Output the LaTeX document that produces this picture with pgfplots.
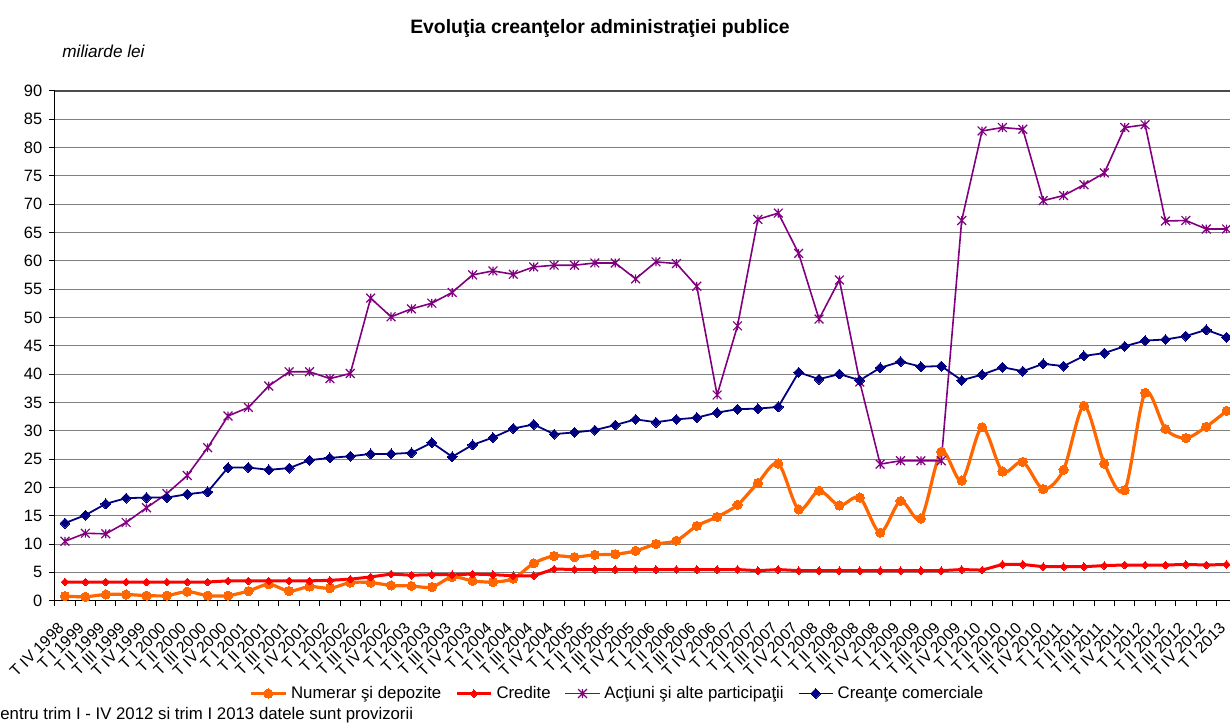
\documentclass[border=0pt]{standalone}
\usepackage{fontspec}
\setmainfont{Liberation Sans}
\usepackage{pgfplots}
\usepackage{pgfplotstable}
\pgfplotsset{compat=1.18}

\definecolor{cnum}{RGB}{255,102,0}
\definecolor{ccred}{RGB}{255,0,0}
\definecolor{cact}{RGB}{128,0,128}
\definecolor{ccrean}{RGB}{0,0,128}

\pgfdeclareplotmark{xstar}{%
  \pgfpathmoveto{\pgfqpoint{0pt}{\pgfplotmarksize}}%
  \pgfpathlineto{\pgfqpoint{0pt}{-\pgfplotmarksize}}%
  \pgfpathmoveto{\pgfqpoint{-\pgfplotmarksize}{-\pgfplotmarksize}}%
  \pgfpathlineto{\pgfqpoint{\pgfplotmarksize}{\pgfplotmarksize}}%
  \pgfpathmoveto{\pgfqpoint{-\pgfplotmarksize}{\pgfplotmarksize}}%
  \pgfpathlineto{\pgfqpoint{\pgfplotmarksize}{-\pgfplotmarksize}}%
  \pgfusepathqstroke
}

\pgfplotstableread{
k num cred act crean
0 0.8 3.3 10.5 13.7
1 0.7 3.3 11.9 15.1
2 1.1 3.3 11.8 17.1
3 1.1 3.3 13.8 18.1
4 0.9 3.3 16.4 18.2
5 0.9 3.3 18.9 18.2
6 1.6 3.3 22.1 18.8
7 0.9 3.3 27.0 19.2
8 0.9 3.5 32.6 23.5
9 1.7 3.5 34.1 23.5
10 2.9 3.5 37.9 23.1
11 1.7 3.5 40.4 23.4
12 2.5 3.5 40.4 24.8
13 2.2 3.6 39.2 25.2
14 3.2 3.8 40.1 25.5
15 3.2 4.2 53.4 25.9
16 2.7 4.7 50.1 25.9
17 2.6 4.5 51.5 26.1
18 2.4 4.6 52.5 27.9
19 4.2 4.6 54.4 25.4
20 3.5 4.7 57.5 27.5
21 3.3 4.6 58.2 28.8
22 3.9 4.4 57.6 30.4
23 6.6 4.4 58.9 31.1
24 7.9 5.6 59.2 29.4
25 7.7 5.5 59.2 29.7
26 8.1 5.5 59.6 30.1
27 8.2 5.5 59.6 31.0
28 8.8 5.5 56.8 32.0
29 10.0 5.5 59.8 31.5
30 10.6 5.5 59.5 32.0
31 13.2 5.5 55.5 32.3
32 14.8 5.5 36.3 33.2
33 16.9 5.5 48.5 33.8
34 20.8 5.3 67.3 33.9
35 24.2 5.5 68.4 34.2
36 16.1 5.3 61.3 40.3
37 19.4 5.3 49.7 39.1
38 16.8 5.3 56.6 40.0
39 18.2 5.3 38.6 38.9
40 12.0 5.3 24.1 41.1
41 17.6 5.3 24.7 42.2
42 14.5 5.3 24.7 41.3
43 26.3 5.3 24.7 41.4
44 21.2 5.5 67.1 38.9
45 30.6 5.4 82.9 39.9
46 22.8 6.4 83.5 41.2
47 24.5 6.4 83.2 40.5
48 19.7 6.0 70.6 41.8
49 23.1 6.0 71.5 41.4
50 34.4 6.0 73.4 43.2
51 24.2 6.2 75.5 43.7
52 19.5 6.3 83.5 44.9
53 36.7 6.3 84.0 45.9
54 30.3 6.3 67.0 46.1
55 28.7 6.4 67.1 46.7
56 30.7 6.3 65.6 47.8
57 33.5 6.4 65.6 46.5
}\data

\begin{document}
\begin{tikzpicture}
\begin{axis}[
  at={(0,0)}, anchor=south west,
  scale only axis, width=591pt, height=255pt,
  xmin=-0.5, xmax=57.5, ymin=0, ymax=90,
  axis x line*=bottom, axis y line*=left,
  axis line style={-, black, line width=0.6pt},
  ytick={0,5,...,90},
  xtick={0,...,57},
  xticklabels={T IV 1998,
    T I 1999,T II 1999,T III 1999,T IV 1999,
    T I 2000,T II 2000,T III 2000,T IV 2000,
    T I 2001,T II 2001,T III 2001,T IV 2001,
    T I 2002,T II 2002,T III 2002,T IV 2002,
    T I 2003,T II 2003,T III 2003,T IV 2003,
    T I 2004,T II 2004,T III 2004,T IV 2004,
    T I 2005,T II 2005,T III 2005,T IV 2005,
    T I 2006,T II 2006,T III 2006,T IV 2006,
    T I 2007,T II 2007,T III 2007,T IV 2007,
    T I 2008,T II 2008,T III 2008,T IV 2008,
    T I 2009,T II 2009,T III 2009,T IV 2009,
    T I 2010,T II 2010,T III 2010,T IV 2010,
    T I 2011,T II 2011,T III 2011,T IV 2011,
    T I 2012,T II 2012,T III 2012,T IV 2012,
    T I 2013},
  minor xtick={-0.5,0.5,...,57.5},
  major x tick style={draw=none},
  minor x tick style={black, line width=0.5pt},
  y tick style={black, line width=0.5pt},
  tick align=outside,
  major tick length=2.8pt, minor tick length=2.8pt,
  ymajorgrids, grid style={gray, line width=0.5pt},
  /pgf/number format/assume math mode=true,
  yticklabel style={font=\fontsize{8.2}{10}\selectfont},
  xticklabel style={font=\fontsize{7.9}{9.5}\selectfont, xshift=-4pt, yshift=-6pt, rotate=45, anchor=north east, inner sep=1pt},
  legend style={at={(0.4769,-0.182)}, anchor=center, draw=none, fill=none,
    legend columns=4, font=\fontsize{8.4}{10}\selectfont,
    /tikz/every even column/.append style={column sep=5pt}},
  legend cell align=left,
  clip=false,
]
\draw[gray!60!black, line width=0.9pt] (rel axis cs:0,1) -- (rel axis cs:1,1);
\addplot[cnum, line width=1.6pt, smooth, tension=0.5, mark=*, mark size=2.3pt,
  mark options={solid, fill=cnum, draw=cnum, line width=0pt}] table[x=k,y=num]{\data};
\addplot[ccred, line width=1.5pt, mark=square*, mark size=1.35pt,
  mark options={solid, rotate=45, fill=ccred, draw=ccred, line width=0pt}] table[x=k,y=cred]{\data};
\addplot[cact, line width=0.8pt, mark=xstar, mark size=2.2pt,
  mark options={solid, line width=0.6pt}] table[x=k,y=act]{\data};
\addplot[ccrean, line width=0.9pt, mark=square*, mark size=1.75pt,
  mark options={solid, rotate=45, fill=ccrean, draw=ccrean, line width=0pt}] table[x=k,y=crean]{\data};
\legend{Numerar şi depozite, Credite, Acţiuni şi alte participaţii, Creanţe comerciale}
\end{axis}
\node[anchor=base, font=\bfseries\fontsize{9.7}{12}\selectfont] at (272.6pt,283.7pt) {Evoluţia creanţelor administraţiei publice};
\node[anchor=base west, inner sep=0pt, font=\itshape\fontsize{8.6}{10}\selectfont] at (3.6pt,271.4pt) {miliarde lei};
\node[anchor=base west, inner sep=0pt, font=\fontsize{8.4}{10}\selectfont] at (-33pt,-59.6pt) {Pentru trim I - IV 2012 si trim I 2013 datele sunt provizorii};
\pgfresetboundingbox
\path (-27.4pt,-61.15pt) rectangle (587.6pt,300.35pt);
\end{tikzpicture}
\end{document}
